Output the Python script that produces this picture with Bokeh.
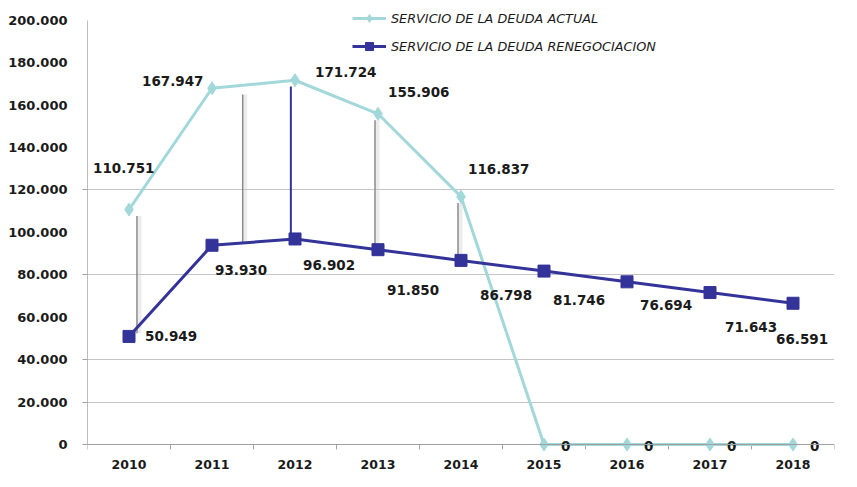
from bokeh.plotting import figure
from bokeh.models import ColumnDataSource, Range1d, FixedTicker, Legend, LegendItem, Span
from bokeh.core.properties import value
from bokeh.embed import file_html
from bokeh.resources import INLINE

# ---- data ----
years = [2010, 2011, 2012, 2013, 2014, 2015, 2016, 2017, 2018]
servicio_actual = [110751, 167947, 171724, 155906, 116837, 0, 0, 0, 0]
servicio_reneg = [50949, 93930, 96902, 91850, 86798, 81746, 76694, 71643, 66591]
y_ticks = [0, 20000, 40000, 60000, 80000, 100000, 120000, 140000, 160000, 180000, 200000]
y_tick_marks = [0, 20000, 40000, 80000, 120000]
grid_values = [20000, 40000, 80000, 120000]
connector_years = [2010, 2011, 2012, 2013, 2014]
label_actual = "SERVICIO DE LA DEUDA ACTUAL"
label_reneg = "SERVICIO DE LA DEUDA RENEGOCIACION"


def fmt(v):
    return f"{v:,}".replace(",", ".")


# ---- styles ----
C_ACT = "#a3d8db"
C_REN = "#333399"
TXT = "#1a1a1a"
AX = "#a0a0a0"
FONT = value("DejaVu Sans")

# label offsets in screen pixels (style)
act_dx = [-36, -70, 20, 10, 7, 17, 17, 17, 17]
act_dy = [-42, -7, -8, -22, -28, 1, 1, 1, 1]
ren_dx = [16, 3, 8, 9, 19, 9, 13, 15, -17]
ren_dy = [0, 25, 26, 40, 35, 29, 23, 34, 36]
# connector horizontal shifts (fraction of a category) and colours
con_shift = [0.096, 0.37, -0.05, -0.036, -0.036]
con_color = ["#8a8a8a", "#8a8a8a", C_REN, "#8a8a8a", "#8a8a8a"]
con_width = [1.5, 1.5, 2, 1.5, 1.5]
con_shadow = [0.35, 0.35, 0.0, 0.35, 0.35]

Y_MIN, Y_MAX = y_ticks[0], y_ticks[-1]
p = figure(width=841, height=471, output_backend="svg", toolbar_location=None,
           x_range=Range1d(years[0] - 0.5, years[-1] + 0.5),
           y_range=Range1d(-3300, 208850),
           min_border_left=87, min_border_right=7, min_border_top=1,
           min_border_bottom=16)
p.outline_line_color = None
p.background_fill_color = "white"

# x axis: labels only; axis line and boundary ticks drawn at y = 0
p.xaxis.ticker = FixedTicker(ticks=years)
p.xaxis.axis_line_color = None
p.xaxis.major_tick_line_color = None
p.xaxis.minor_tick_line_color = None
p.xaxis.major_label_text_font = "DejaVu Sans"
p.xaxis.major_label_text_font_style = "bold"
p.xaxis.major_label_text_font_size = "12.5px"
p.xaxis.major_label_text_color = TXT
p.xaxis.major_label_standoff = 2

p.yaxis.ticker = FixedTicker(ticks=y_ticks, minor_ticks=y_tick_marks)
p.yaxis.bounds = (Y_MIN, Y_MAX)
p.yaxis.major_label_overrides = {t: fmt(t) for t in y_ticks}
p.yaxis.major_tick_out = 0
p.yaxis.major_tick_in = 0
p.yaxis.minor_tick_out = 5
p.yaxis.minor_tick_in = 0
p.yaxis.minor_tick_line_color = AX
p.yaxis.axis_line_color = "#bdbdbd"
p.yaxis.major_label_text_font = "DejaVu Sans"
p.yaxis.major_label_text_font_style = "bold"
p.yaxis.major_label_text_font_size = "13px"
p.yaxis.major_label_text_color = TXT
p.yaxis.major_label_standoff = 15

p.xgrid.visible = False
p.ygrid.ticker = FixedTicker(ticks=grid_values)
p.ygrid.grid_line_color = "#c4c4c4"
p.ygrid.grid_line_width = 1

p.add_layout(Span(location=Y_MIN, dimension="width", line_color=AX, line_width=1))
bounds = [y - 0.5 for y in years] + [years[-1] + 0.5]
p.segment(x0=bounds, y0=[Y_MIN] * len(bounds), x1=bounds,
          y1=[Y_MIN - 2300] * len(bounds), line_color=AX, line_width=1)

# connectors between the two series
ci = [years.index(y) for y in connector_years]
con = ColumnDataSource(dict(
    x=[connector_years[k] + con_shift[k] for k in range(len(ci))],
    xs=[connector_years[k] + con_shift[k] + 0.03 for k in range(len(ci))],
    y0=[servicio_actual[i] - 3000 for i in ci],
    y1=[servicio_reneg[i] + 1500 for i in ci],
    color=con_color, width=con_width, shadow=con_shadow,
))
p.segment(x0="xs", y0="y0", x1="xs", y1="y1", source=con,
          line_color="#c8c8c8", line_width=4, line_alpha="shadow")
p.segment(x0="x", y0="y0", x1="x", y1="y1", source=con,
          line_color="color", line_width="width")

# series
src = ColumnDataSource(dict(
    x=years, act=servicio_actual, ren=servicio_reneg,
    act_lbl=[fmt(v) for v in servicio_actual],
    ren_lbl=[fmt(v) for v in servicio_reneg],
    adx=act_dx, ady=act_dy, rdx=ren_dx, rdy=ren_dy,
))
l1 = p.line("x", "act", source=src, line_color=C_ACT, line_width=3)
s1 = p.scatter("x", "act", source=src, marker="diamond", size=13,
               fill_color=C_ACT, line_color=C_ACT)
l2 = p.line("x", "ren", source=src, line_color=C_REN, line_width=3)
s2 = p.scatter("x", "ren", source=src, marker="square", size=12,
               fill_color=C_REN, line_color=C_REN)

# data labels
p.text("x", "act", text="act_lbl", source=src, x_offset="adx", y_offset="ady",
       text_font=FONT, text_font_style="bold", text_font_size="13.5px",
       text_color=TXT, text_align="left", text_baseline="middle")
p.text("x", "ren", text="ren_lbl", source=src, x_offset="rdx", y_offset="rdy",
       text_font=FONT, text_font_style="bold", text_font_size="13.5px",
       text_color=TXT, text_align="left", text_baseline="middle")

legend = Legend(items=[
    LegendItem(label=label_actual, renderers=[l1, s1]),
    LegendItem(label=label_reneg, renderers=[l2, s2]),
], location=(265, 395))
legend.background_fill_alpha = 0
legend.border_line_alpha = 0
legend.padding = 0
legend.margin = 0
legend.spacing = 8
legend.glyph_width = 34
legend.glyph_height = 20
legend.label_height = 20
legend.label_standoff = 5
legend.label_text_font = "DejaVu Sans"
legend.label_text_font_style = "italic"
legend.label_text_font_size = "12.8px"
legend.label_text_color = TXT
p.add_layout(legend)

open("out.html", "w").write(file_html(p, INLINE))
